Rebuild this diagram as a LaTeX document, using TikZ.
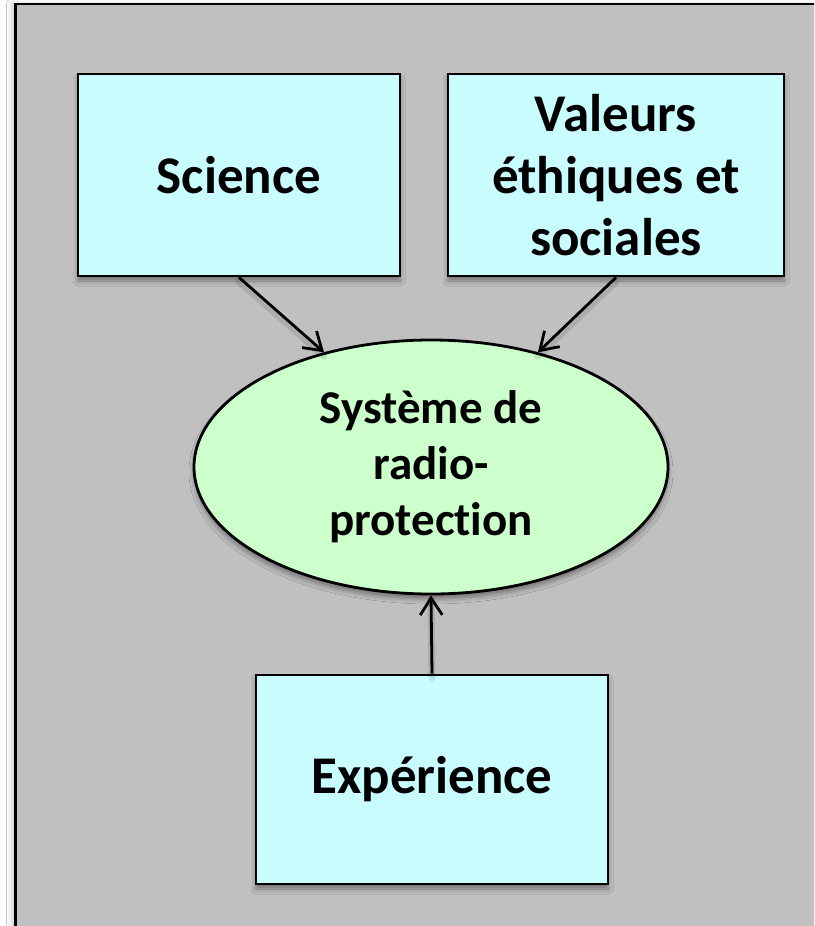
\documentclass[tikz,border=0pt]{standalone}
\usepackage{fontspec}
\setmainfont{Carlito}[Ligatures=NoCommon]
\usetikzlibrary{shapes.geometric,arrows.meta,shadows.blur}

\definecolor{panel}{HTML}{C0C0C0}
\definecolor{boxfill}{HTML}{C9FCFF}
\definecolor{ovalfill}{HTML}{CCFFCC}

\begin{document}
\begin{tikzpicture}[x=1pt,y=-1pt,
  softshadow/.style={blur shadow={shadow xshift=0pt,shadow yshift=-5pt,
      shadow blur radius=5pt,shadow opacity=40}},
  topic/.style={draw=black,line width=2.8pt,fill=boxfill,inner sep=0pt,
      align=center,font=\bfseries\fontsize{53}{62}\selectfont,softshadow},
  hub/.style={ellipse,draw=black,line width=2.8pt,fill=ovalfill,inner sep=0pt,
      align=center,font=\bfseries\fontsize{47}{56}\selectfont,softshadow},
  link/.style={line width=2.8pt,-{Straight Barb[length=17pt,width=22pt]}},
  linkshade/.style={line width=7pt,black,opacity=0.10,line cap=round,
      transform canvas={yshift=-4pt}},
  ]
  % page and grey panel
  \useasboundingbox (0,0) rectangle (814,926);
  \fill[white] (0,0) rectangle (814,926);
  \begin{scope}
    \clip (0,0) rectangle (814,926);
    \draw[line width=2.8pt,fill=panel,
      blur shadow={shadow xshift=-4pt,shadow yshift=0pt,shadow blur radius=5pt,shadow opacity=20}]
      (15.5,4) rectangle (830,940);
  \end{scope}

  % nodes
  \node[topic,minimum width=322pt,minimum height=202pt] (science) at (239,175) {Science};
  \node[topic,minimum width=336pt,minimum height=202pt] (values) at (616,175)
       {Valeurs\\éthiques et\\sociales};
  \node[hub,minimum width=474pt,minimum height=254pt] (system) at (431,467)
       {Système de\\radio-\\protection};
  \node[topic,minimum width=352pt,minimum height=209pt] (practice) at (432,779.5) {Expérience};

  % soft shade under the connectors
  \draw[linkshade] (science.south) -- (system.133);
  \draw[linkshade] (values.south) -- (system.47);
  \draw[linkshade] (practice.north) -- (system.south);

  % connectors
  \draw[link] (science.south) -- (system.133);
  \draw[link] (values.south) -- (system.47);
  \draw[link] (practice.north) -- (system.south);
\end{tikzpicture}
\end{document}
